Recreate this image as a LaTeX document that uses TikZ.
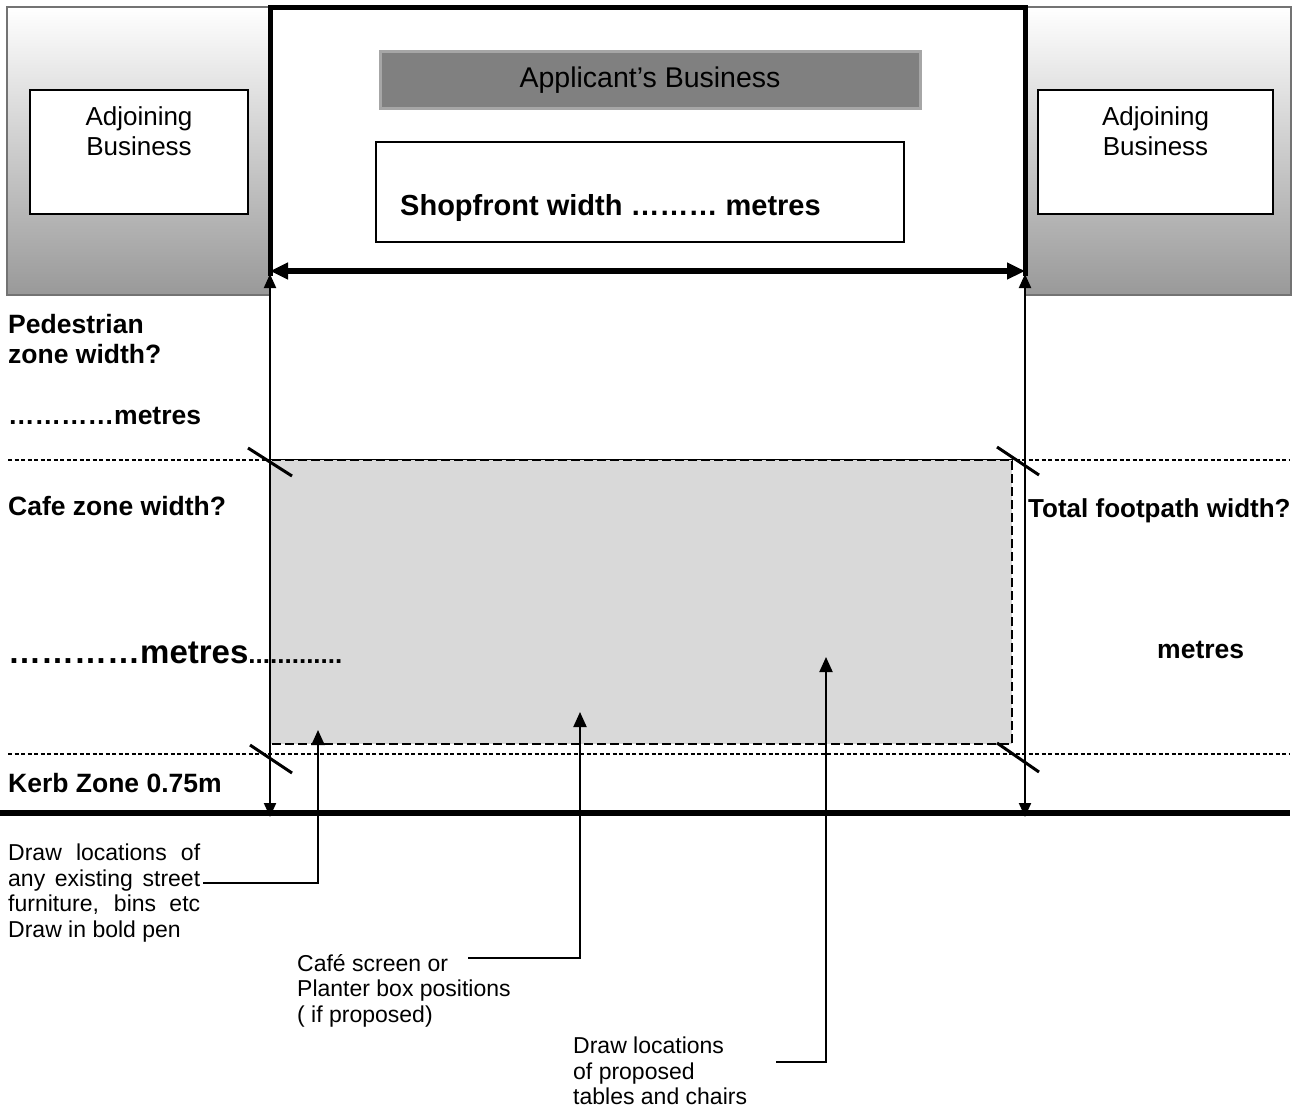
\documentclass[tikz,border=0pt]{standalone}
\usepackage{fontspec}
\setmainfont{Liberation Sans}
\usetikzlibrary{positioning}
\usetikzlibrary{arrows.meta}

\tikzset{
  adjblock/.style={draw=black!55, line width=2pt, top color=white, bottom color=black!40},
  adjbox/.style={draw, line width=1.5pt, fill=white, minimum width=218pt, minimum height=124pt, inner sep=0pt},
  boxtext/.style={font=\fontsize{26}{30}\selectfont, align=center, inner sep=0pt},
  banner/.style={draw=black!35, line width=3pt, fill=black!50, minimum width=540pt, minimum height=56pt, inner sep=0pt, font=\fontsize{28.5}{32}\selectfont},
  framebox/.style={draw, line width=1.5pt, fill=white, inner sep=0pt},
  zonelabel/.style={font=\bfseries\fontsize{26.5}{30}\selectfont, inner sep=0pt, anchor=base west},
  note/.style={font=\fontsize{23}{25.5}\selectfont, inner sep=0pt, anchor=north west, align=left},
  cafe/.style={fill=black!15, line width=2.7pt, dash pattern=on 9pt off 4pt},
  zoneline/.style={line width=1.2pt, dash pattern=on 4pt off 2.5pt},
  shopwall/.style={line width=5pt},
  sfdim/.style={line width=6pt, {Triangle[length=18pt,width=16pt]}-{Triangle[length=18pt,width=16pt]}},
  kerb/.style={line width=6pt},
  tick/.style={line width=3pt},
  dimline/.style={line width=2pt, {Triangle[length=14pt,width=12pt]}-{Triangle[length=14pt,width=12pt]}},
  leader/.style={line width=2pt, -{Triangle[length=15pt,width=13pt]}},
}

\begin{document}
\begin{tikzpicture}[x=1pt,y=-1pt]
\useasboundingbox (0,0) rectangle (1298,1108);

% neighbouring shops
\draw[adjblock] (7,7) rectangle (270,295);
\draw[adjblock] (1025,7) rectangle (1291,295);
\node[adjbox] (adjL) at (139,152) {};
\node[boxtext, below=17pt of adjL.north] (adjLtxt) {Adjoining\\Business};
\node[adjbox, minimum width=235pt] (adjR) at (1155.5,152) {};
\node[boxtext, below=17pt of adjR.north] (adjRtxt) {Adjoining\\Business};

% zones
\draw[zoneline] (8,460) -- (1290,460);
\draw[zoneline] (8,754) -- (1290,754);
\draw[cafe] (270,460) rectangle (1012,744);

% applicant's shop
\draw[shopwall] (270,276) -- (270,8) -- (1025,8) -- (1025,276);
\node[banner] (appbiz) at (650,80) {Applicant’s Business};
\node[framebox, minimum width=528pt, minimum height=100pt] (shopfront) at (640,192) {};
\node[zonelabel, font=\bfseries\fontsize{29}{32}\selectfont] (sfwidth) at (400,215) {Shopfront width ……… metres};
\coordinate (sfL) at (270,271);
\coordinate (sfR) at (1025,271);
\draw[sfdim] (sfL) -- (sfR);

% kerb and footpath width
\coordinate (kerbW) at (0,813);
\coordinate (kerbE) at (1290,813);
\draw[kerb] (kerbW) -- (kerbE);
\coordinate (fpLtop) at (270,274);
\coordinate (fpLbot) at (270,817);
\coordinate (fpRtop) at (1025,274);
\coordinate (fpRbot) at (1025,817);
\draw[dimline] (fpLtop) -- (fpLbot);
\draw[dimline] (fpRtop) -- (fpRbot);

% ticks
\draw[tick] (248,448) -- (292,476);
\draw[tick] (250,745) -- (292,773);
\draw[tick] (997,447) -- (1039,475);
\draw[tick] (997,743) -- (1039,772);

% zone labels
\node[zonelabel] (ped) at (8,333) {Pedestrian};
\node[zonelabel] (pedw) at (8,363) {zone width?};
\node[zonelabel] (pedm) at (8,424) {…………metres};
\node[zonelabel] (cafew) at (8,515) {Cafe zone width?};
\node[zonelabel] (cafem) at (8,663) {\fontsize{33}{36}\selectfont …………metres\fontsize{26}{30}\selectfont .............};
\node[zonelabel] (kerbz) at (8,792) {Kerb Zone 0.75m};
\node[zonelabel, font=\bfseries\fontsize{26}{30}\selectfont] (totw) at (1028,517) {Total footpath width?};
\node[zonelabel] (totm) at (1157,658) {metres};

% notes
\node[note] (streetnote) at (8,844) {\makebox[192pt][s]{Draw locations of}\\\makebox[192pt][s]{any existing street}\\\makebox[192pt][s]{furniture, bins etc}\\Draw in bold pen};
\node[note] (screennote) at (297,954) {Café screen or\\Planter box positions\\( if proposed)};
\node[note] (tablenote) at (573,1037) {Draw locations\\of proposed\\tables and chairs};

% leaders
\coordinate (streetS) at (203,883);
\coordinate (streetT) at (318,730);
\coordinate (screenS) at (468,958);
\coordinate (screenT) at (580,712);
\coordinate (tableS) at (776,1062);
\coordinate (tableT) at (826,657);
\draw[leader] (streetS) -| (streetT);
\draw[leader] (screenS) -| (screenT);
\draw[leader] (tableS) -| (tableT);
\end{tikzpicture}
\end{document}
